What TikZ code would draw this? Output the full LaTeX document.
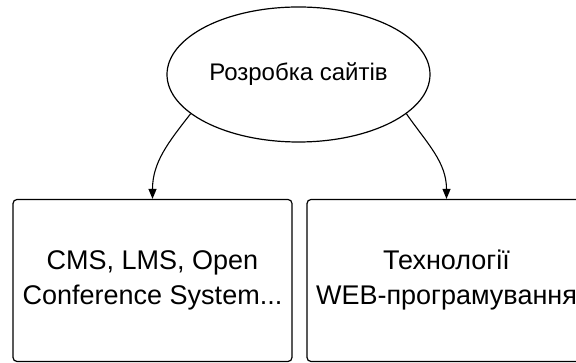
\documentclass[tikz,border=0pt]{standalone}
\usepackage{fontspec}
\setmainfont{Liberation Sans}
\usetikzlibrary{shapes.geometric,arrows.meta}

\begin{document}
\begin{tikzpicture} [
  x=1pt, y=1pt,
  topic/.style={draw, ellipse, line width=1.2pt, inner sep=0pt,
    minimum width=263pt, minimum height=135pt,
    font=\fontsize{24}{29}\selectfont},
  area/.style={draw, rounded corners=4pt, line width=1.2pt, align=center,
    minimum width=279pt, minimum height=162pt,
    font=\fontsize{27}{35}\selectfont},
  link/.style={-{Triangle[length=10pt,width=8pt]}, line width=1.1pt}]
\clip (0,0) rectangle (576,363);
\node[topic] (sites) at (298.5,288.5) {Розробка сайтів};
\node[area] (cms) at (152.5,82.5) {CMS, LMS, Open\\Conference System...};
\node[area] (web) at (446.5,82.5) {Технології\\WEB-програмування};
\draw[link] (sites.200) to[out=232,in=90] (cms.north);
\draw[link] (sites.340) to[out=-55,in=90] (web.north);
\end{tikzpicture}
\end{document}
